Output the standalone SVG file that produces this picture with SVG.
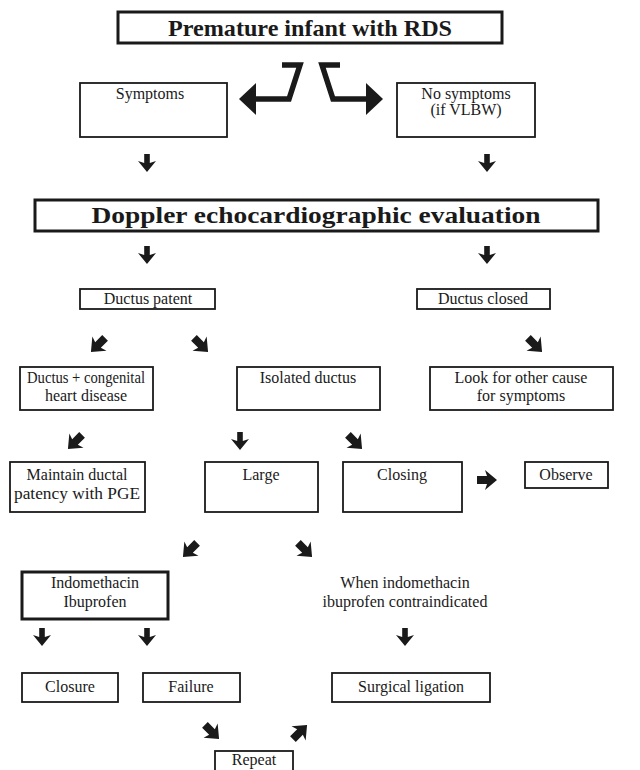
<svg xmlns="http://www.w3.org/2000/svg" width="640" height="770" viewBox="0 0 640 770">
<style>
.bx{fill:#fff;stroke:#1a1a1a;stroke-width:1.8}
.tb{fill:#fff;stroke:#1a1a1a;stroke-width:3}
.t{font-family:"Liberation Serif","Times New Roman",serif;font-size:16px;fill:#1a1a1a;text-anchor:middle}
.h{font-family:"Liberation Serif","Times New Roman",serif;font-size:24px;font-weight:bold;fill:#1a1a1a;text-anchor:middle}
.a{fill:#1a1a1a}
</style>
<defs>
<path id="down" d="M-2.8,0 H2.8 V9 L9,7 L0,18 L-9,7 L-2.8,9 Z"/>
<path id="diag" d="M-4,-10 H4 V0 L10,-2 L0,10 L-10,-2 L-4,0 Z"/>
</defs>
<g id="n1"><rect class="tb" x="118" y="12" width="384" height="31"/><text class="h" x="310" y="36" textLength="284" lengthAdjust="spacingAndGlyphs">Premature infant with RDS</text></g>
<g id="n2"><rect class="bx" x="80" y="83" width="147" height="54"/><text class="t" x="150" y="99">Symptoms</text></g>
<g id="n3"><rect class="bx" x="397" y="83" width="138" height="54"/><text class="t" x="466" y="99">No symptoms</text><text class="t" x="466" y="115">(if VLBW)</text></g>
<g id="n4"><rect class="tb" x="35" y="200" width="563" height="31"/><text class="h" x="316" y="223" textLength="449" lengthAdjust="spacingAndGlyphs">Doppler echocardiographic evaluation</text></g>
<g id="n5"><rect class="bx" x="80" y="289" width="135" height="20"/><text class="t" x="148" y="304">Ductus patent</text></g>
<g id="n6"><rect class="bx" x="417" y="289" width="133" height="20"/><text class="t" x="483" y="304">Ductus closed</text></g>
<g id="n7"><rect class="bx" x="20" y="367" width="133" height="43"/><text class="t" x="86" y="383" textLength="118" lengthAdjust="spacingAndGlyphs">Ductus + congenital</text><text class="t" x="86" y="401">heart disease</text></g>
<g id="n8"><rect class="bx" x="237" y="367" width="143" height="43"/><text class="t" x="308" y="383">Isolated ductus</text></g>
<g id="n9"><rect class="bx" x="430" y="367" width="183" height="43"/><text class="t" x="521" y="383">Look for other cause</text><text class="t" x="521" y="401">for symptoms</text></g>
<g id="n10"><rect class="bx" x="10" y="462" width="135" height="50"/><text class="t" x="77" y="480">Maintain ductal</text><text class="t" x="77" y="499" textLength="126" lengthAdjust="spacingAndGlyphs">patency with PGE</text></g>
<g id="n11"><rect class="bx" x="205" y="462" width="113" height="50"/><text class="t" x="261" y="480">Large</text></g>
<g id="n12"><rect class="bx" x="343" y="462" width="119" height="50"/><text class="t" x="402" y="480">Closing</text></g>
<g id="n13"><rect class="bx" x="525" y="462" width="83" height="26"/><text class="t" x="566" y="480">Observe</text></g>
<g id="n14"><rect class="tb" x="22" y="572" width="146" height="47"/><text class="t" x="95" y="588">Indomethacin</text><text class="t" x="95" y="607">Ibuprofen</text></g>
<g id="n15"><text class="t" x="405" y="588">When indomethacin</text><text class="t" x="405" y="607">ibuprofen contraindicated</text></g>
<g id="n16"><rect class="bx" x="22" y="673" width="96" height="29"/><text class="t" x="70" y="692">Closure</text></g>
<g id="n17"><rect class="bx" x="143" y="673" width="97" height="29"/><text class="t" x="191" y="692">Failure</text></g>
<g id="n18"><rect class="bx" x="332" y="673" width="158" height="29"/><text class="t" x="411" y="692">Surgical ligation</text></g>
<g id="n19"><rect class="bx" x="215" y="751" width="78" height="24"/><text class="t" x="254" y="765">Repeat</text></g>
<g id="connectors" class="a">
<polyline points="282,65 300,65 289,99 255,99" fill="none" stroke="#1a1a1a" stroke-width="5.5"/>
<polygon points="239,99 256,83 256,115"/>
<polyline points="340,65 322,65 333,99 367,99" fill="none" stroke="#1a1a1a" stroke-width="5.5"/>
<polygon points="383,99 366,83 366,115"/>
<use href="#down" x="147" y="154"/>
<use href="#down" x="487" y="154"/>
<use href="#down" x="147" y="246"/>
<use href="#down" x="487" y="246"/>
<use href="#diag" transform="translate(98,345) rotate(45)"/>
<use href="#diag" transform="translate(201,345) rotate(-45)"/>
<use href="#diag" transform="translate(535,345) rotate(-45)"/>
<use href="#diag" transform="translate(75,442) rotate(45)"/>
<use href="#down" x="240" y="432"/>
<use href="#diag" transform="translate(355,442) rotate(-45)"/>
<use href="#diag" transform="translate(487,480) rotate(-90)"/>
<use href="#diag" transform="translate(190,550) rotate(45)"/>
<use href="#diag" transform="translate(305,550) rotate(-45)"/>
<use href="#down" x="42" y="628"/>
<use href="#down" x="147" y="628"/>
<use href="#down" x="405" y="628"/>
<use href="#diag" transform="translate(212,732) rotate(-45)"/>
<use href="#diag" transform="translate(300,732) rotate(-135)"/>
</g>
</svg>
